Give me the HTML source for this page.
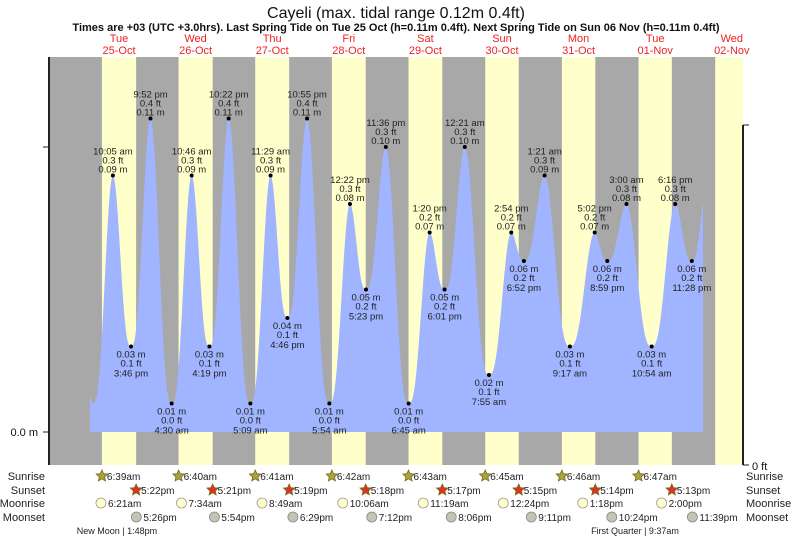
<!DOCTYPE html>
<html><head><meta charset="utf-8"><style>
body{margin:0;background:#fff;}
svg{display:block;font-family:"Liberation Sans",sans-serif;}
</style></head><body>
<svg id="chart" width="793" height="539" viewBox="0 0 793 539" xmlns="http://www.w3.org/2000/svg">
<text x="396" y="18" text-anchor="middle" font-size="16" fill="#111">Cayeli (max. tidal range 0.12m 0.4ft)</text>
<text x="396" y="31" text-anchor="middle" font-size="11" font-weight="bold" fill="#111">Times are +03 (UTC +3.0hrs). Last Spring Tide on Tue 25 Oct (h=0.11m 0.4ft). Next Spring Tide on Sun 06 Nov (h=0.11m 0.4ft)</text>
<g id="bands"></g>
<g id="tide"></g>
<g id="labels"></g>
<g id="days"></g>
<g>
<line x1="49" y1="57" x2="49" y2="465" stroke="#222" stroke-width="2"/>
<line x1="43" y1="147" x2="49" y2="147" stroke="#222"/>
<line x1="43" y1="432" x2="49" y2="432" stroke="#222"/>
<text x="38" y="436" text-anchor="end" font-size="11" fill="#111">0.0 m</text>
</g>
<g>
<line x1="743" y1="125" x2="743" y2="465" stroke="#222" stroke-width="2"/>
<line x1="743" y1="125" x2="749" y2="125" stroke="#222"/>
<line x1="743" y1="465" x2="749" y2="465" stroke="#222"/>
<text x="752" y="470" font-size="11" fill="#111">0 ft</text>
</g>
<g id="astro" font-size="10" fill="#222">
<text x="45" y="480" text-anchor="end" font-size="11">Sunrise</text>
<text x="45" y="494" text-anchor="end" font-size="11">Sunset</text>
<text x="45" y="507" text-anchor="end" font-size="11">Moonrise</text>
<text x="45" y="521" text-anchor="end" font-size="11">Moonset</text>
<text x="746" y="480" font-size="11">Sunrise</text>
<text x="746" y="494" font-size="11">Sunset</text>
<text x="746" y="507" font-size="11">Moonrise</text>
<text x="746" y="521" font-size="11">Moonset</text>
<text x="117" y="534" text-anchor="middle" font-size="9">New Moon | 1:48pm</text>
<text x="635" y="534" text-anchor="middle" font-size="9">First Quarter | 9:37am</text>
</g>
</svg>
<script>
const dayNames=["Tue","Wed","Thu","Fri","Sat","Sun","Mon","Tue","Wed"];
const dayDates=["25-Oct","26-Oct","27-Oct","28-Oct","29-Oct","30-Oct","31-Oct","01-Nov","02-Nov"];
const sunrise=["6:39","6:40","6:41","6:42","6:43","6:45","6:46","6:47","6:48"];
const sunset=["17:22","17:21","17:19","17:18","17:17","17:15","17:14","17:13"];
const moonrise=["6:21","7:34","8:49","10:06","11:19","12:24","13:18","14:00"];
const moonset=["17:26","17:54","18:29","19:12","20:06","21:11","22:24","23:39"];
const tideDays=[0,0,0,0,0,1,1,1,1,2,2,2,2,3,3,3,3,4,4,4,5,5,5,5,6,6,6,6,7,7,7,7,8];
const tideTimes=["02:50","03:50","10:05","15:46","21:52","04:30","10:46","16:19","22:22","05:09","11:29","16:46","22:55","05:54","12:22","17:23","23:36","06:45","13:20","18:01","00:21","07:55","14:54","18:52","01:21","09:17","17:02","20:59","03:00","10:54","18:16","23:28","04:00"];
const tideMeters=[0.013,0.01,0.09,0.03,0.11,0.01,0.09,0.03,0.11,0.01,0.09,0.04,0.11,0.01,0.08,0.05,0.10,0.01,0.07,0.05,0.10,0.02,0.07,0.06,0.09,0.03,0.07,0.06,0.08,0.03,0.08,0.06,0.085];
const tideFeet=["","","0.3","0.1","0.4","0.0","0.3","0.1","0.4","0.0","0.3","0.1","0.4","0.0","0.3","0.2","0.3","0.0","0.2","0.2","0.3","0.1","0.2","0.2","0.3","0.1","0.2","0.2","0.3","0.1","0.3","0.2",""];
const tideLabeled=[0,0,1,1,1,1,1,1,1,1,1,1,1,1,1,1,1,1,1,1,1,1,1,1,1,1,1,1,1,1,1,1,0];

const NS="http://www.w3.org/2000/svg";
const X0=80.7,PXD=76.6,Y0=432,PXM=2850,TOP=57,BOT=465,LEFT=50,RIGHT=743,TEND=703;
function hm(s){const p=s.split(":");return (+p[0]+ +p[1]/60)/24;}
function xs(d){return X0+d*PXD;}
function ys(m){return Y0-m*PXM;}
function mk(tag,attrs,parent){const e=document.createElementNS(NS,tag);for(const k in attrs)e.setAttribute(k,attrs[k]);parent.appendChild(e);return e;}
function fmt12(s,sep){const p=s.split(":");let h=+p[0];const ap=h>=12?"pm":"am";h=h%12||12;return h+":"+p[1]+sep+ap;}

const bands=document.getElementById("bands");
let r=mk("rect",{x:LEFT,y:TOP,width:RIGHT-LEFT,height:BOT-TOP,fill:"#a8a8a8"},bands);


for(let i=0;i<sunrise.length;i++){
  const a=xs(i+hm(sunrise[i]));
  const b=i<sunset.length?xs(i+hm(sunset[i])):RIGHT;
  const e=mk("rect",{x:a,y:TOP,width:Math.min(b,RIGHT)-a,height:BOT-TOP,fill:"#ffffcc"},bands);
  
  
}
const ts=tideDays.map((d,i)=>d+hm(tideTimes[i]));
let pts=[];
for(let px=90;px<=TEND;px+=1){
  const t=(px-X0)/PXD;
  let k=0;while(k<ts.length-2&&ts[k+1]<t)k++;
  let f=(t-ts[k])/(ts[k+1]-ts[k]);f=Math.max(0,Math.min(1,f));
  const a=tideMeters[k],b=tideMeters[k+1];
  let s=(1-Math.cos(Math.PI*f))/2;
  // fraction measured from the low end, sharpened toward the high
  const lo=Math.min(a,b),hi=Math.max(a,b);
  let h=(a<b)?s:1-s;
  h=Math.pow(h,1.4);
  const v=lo+(hi-lo)*h;
  pts.push(px+","+ys(v).toFixed(1));
}
const tg=document.getElementById("tide");
const poly=mk("polygon",{points:"90,"+Y0+" "+pts.join(" ")+" "+TEND+","+Y0,fill:"#a0b4ff"},tg);


const lg=document.getElementById("labels");
for(let i=0;i<ts.length;i++){
  if(!tideLabeled[i])continue;
  const x=xs(ts[i]),y=ys(tideMeters[i]);
  const high=(i>0&&tideMeters[i]>tideMeters[i-1]);
  const g=mk("g",{},lg);
  
  
  mk("circle",{cx:x,cy:y,r:2,fill:"#000"},g);
  const lines=[fmt12(tideTimes[i]," "),tideFeet[i]+" ft",tideMeters[i].toFixed(2)+" m"];
  const offs=high?[-21,-12,-3]:[30,20,11];
  lines.forEach((s,j)=>{const t=mk("text",{x:x,y:y+offs[j],"text-anchor":"middle","font-size":"9.5",fill:"#222"},g);t.textContent=s;});
}
const dg=document.getElementById("days");
for(let i=0;i<dayNames.length;i++){
  const x=xs(i+0.5);
  const g=mk("g",{},dg);
  
  
  let t=mk("text",{x:x,y:42,"text-anchor":"middle","font-size":"11",fill:"#ee2222"},g);t.textContent=dayNames[i];
  t=mk("text",{x:x,y:54,"text-anchor":"middle","font-size":"11",fill:"#ee2222"},g);t.textContent=dayDates[i];
}
const ag=document.getElementById("astro");
function star(cx,cy,fill,g){let p=[];for(let k=0;k<10;k++){const a=-Math.PI/2+k*Math.PI/5,rr=k%2?2.8:6;p.push((cx+rr*Math.cos(a)).toFixed(1)+","+(cy+rr*Math.sin(a)).toFixed(1));}
  mk("polygon",{points:p.join(" "),fill:fill,stroke:"#7a6a20","stroke-width":"0.8"},g);}
for(let i=0;i<8;i++){
  let x=xs(i+hm(sunrise[i]));let g=mk("g",{},ag);
  
  star(x,476,"#a8a43c",g);let t=mk("text",{x:x+5,y:480},g);t.textContent=sunrise[i]+"am";
  x=xs(i+hm(sunset[i]));g=mk("g",{},ag);
  
  star(x,490,"#dd3322",g);t=mk("text",{x:x+5,y:494},g);t.textContent=fmt12(sunset[i],"");
  x=xs(i+hm(moonrise[i]));g=mk("g",{},ag);
  
  mk("circle",{cx:x,cy:503,r:5,fill:"#ffffcc",stroke:"#999","stroke-width":"0.8"},g);t=mk("text",{x:x+7,y:507},g);t.textContent=fmt12(moonrise[i],"");
  x=xs(i+hm(moonset[i]));g=mk("g",{},ag);
  
  mk("circle",{cx:x,cy:517,r:5,fill:"#c4c4b4",stroke:"#888","stroke-width":"0.8"},g);t=mk("text",{x:x+7,y:521},g);t.textContent=fmt12(moonset[i],"");
}
</script>
</body></html>
